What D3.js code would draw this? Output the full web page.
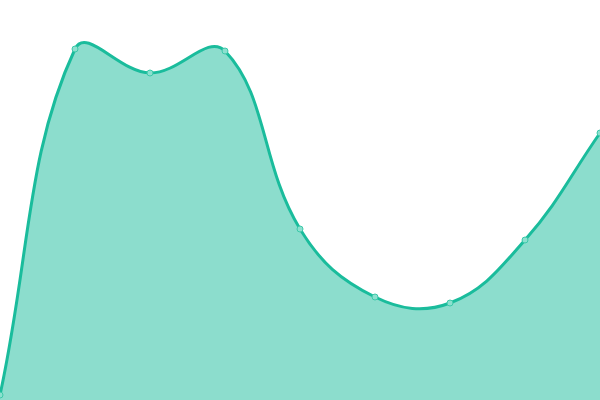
<!DOCTYPE html>
<html><head><meta charset="utf-8">
<script src="https://cdn.jsdelivr.net/npm/d3@7"></script>
<style>html,body{margin:0;padding:0;background:#fff;overflow:hidden}</style>
</head><body>
<svg id="c" width="600" height="400"></svg>
<script>
const categories = [0,1,2,3,4,5,6,7,8];
const values = [1.25, 87.75, 81.75, 87.25, 42.75, 25.75, 24.25, 40, 66.75];

const W = 600, H = 400;
const svg = d3.select('#c');
const x = d3.scaleLinear().domain([0, 8]).range([0, W]);
const y = d3.scaleLinear().domain([0, 100]).range([H, 0]);
const data = categories.map((c,i)=>({c, v: values[i]}));

// Distance-weighted spline (tension 0.4) as a d3 curve factory
function SplineCurve(context, tension) { this._context = context; this._t = tension; }
SplineCurve.prototype = {
  areaStart() { this._line = 0; },
  areaEnd() { this._line = NaN; },
  lineStart() { this._pts = []; },
  point(px, py) { this._pts.push([+px, +py]); },
  lineEnd() {
    const p = this._pts, n = p.length, ctx = this._context, t = this._t;
    if (n) {
      this._line ? ctx.lineTo(p[0][0], p[0][1]) : ctx.moveTo(p[0][0], p[0][1]);
      const cp = p.map((cur, i) => {
        const prev = p[Math.max(0, i-1)], next = p[Math.min(n-1, i+1)];
        const d01 = Math.hypot(cur[0]-prev[0], cur[1]-prev[1]);
        const d12 = Math.hypot(next[0]-cur[0], next[1]-cur[1]);
        let s01 = d01/(d01+d12), s12 = d12/(d01+d12);
        if (isNaN(s01)) s01 = 0; if (isNaN(s12)) s12 = 0;
        const fa = t*s01, fb = t*s12;
        const clampX = v => Math.max(0, Math.min(W, v));
        const clampY = v => Math.max(0, Math.min(H, v));
        return {
          prev: [clampX(cur[0] - fa*(next[0]-prev[0])), clampY(cur[1] - fa*(next[1]-prev[1]))],
          next: [clampX(cur[0] + fb*(next[0]-prev[0])), clampY(cur[1] + fb*(next[1]-prev[1]))]
        };
      });
      for (let i = 1; i < n; i++) {
        ctx.bezierCurveTo(cp[i-1].next[0], cp[i-1].next[1], cp[i].prev[0], cp[i].prev[1], p[i][0], p[i][1]);
      }
    }
    if (this._line || (this._line !== 0 && n === 1)) ctx.closePath();
    this._line = 1 - this._line;
  }
};
const curveSpline = ctx => new SplineCurve(ctx, 0.4);

const area = d3.area().x(d=>x(d.c)).y0(y(0)).y1(d=>y(d.v)).curve(curveSpline);
const line = d3.line().x(d=>x(d.c)).y(d=>y(d.v)).curve(curveSpline);

svg.append('path').datum(data).attr('d', area).attr('fill', 'rgba(26,188,156,0.5)');
svg.append('path').datum(data).attr('d', line).attr('fill', 'none').attr('stroke', '#1abc9c').attr('stroke-width', 3);
svg.selectAll('circle').data(data).join('circle')
  .attr('cx', d=>x(d.c)).attr('cy', d=>y(d.v)).attr('r', 3)
  .attr('fill', '#8ce0cf').attr('stroke', '#3cc9a9').attr('stroke-width', 1);
</script>
</body></html>
